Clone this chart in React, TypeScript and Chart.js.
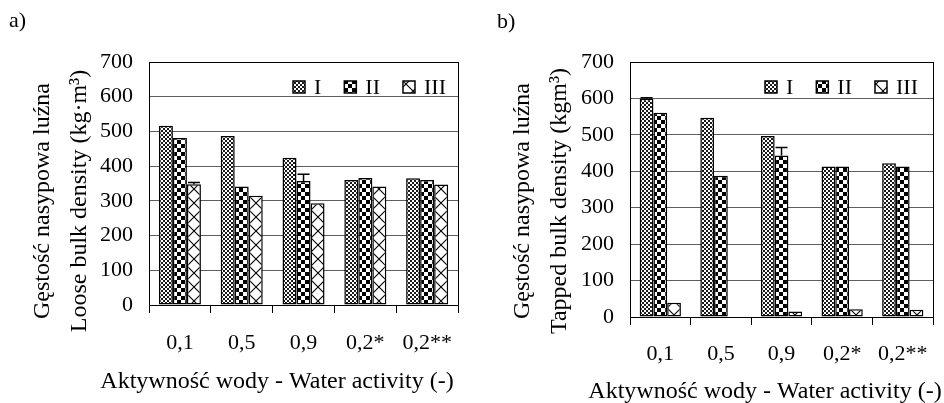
import React, { useEffect, useRef } from "react";
import { Chart, registerables } from "chart.js";

Chart.register(...registerables);

// ---------- data ----------
const categories = ["0,1", "0,5", "0,9", "0,2*", "0,2**"];
const seriesLabels = ["I", "II", "III"];
const yMin = 0;
const yMax = 700;
const yStep = 100;

// a) Loose bulk density (kg·m³)
const looseI = [516, 487, 424, 360, 365];
const looseII = [481, 341, 357, 366, 360];
const looseIII = [348, 315, 293, 341, 347];
const looseErrI = [0, 0, 0, 0, 0];
const looseErrII = [0, 0, 20, 0, 0];
const looseErrIII = [5, 0, 0, 0, 0];

// b) Tapped bulk density (kgm³)
const tappedI = [599, 547, 497, 413, 422];
const tappedII = [561, 388, 443, 413, 413];
const tappedIII = [39, 0, 15, 21, 20];
const tappedErrI = [3, 0, 0, 0, 0];
const tappedErrII = [0, 0, 22, 0, 0];
const tappedErrIII = [0, 0, 0, 0, 0];

const yTitleLoose = ["Gęstość nasypowa luźna", "Loose bulk density (kg·m³)"];
const yTitleTapped = ["Gęstość nasypowa luźna", "Tapped bulk density (kgm³)"];
const xTitle = "Aktywność wody - Water activity (-)";

const FONT = "'Liberation Serif', 'Times New Roman', Times, serif";
const CAT_PCT = 0.68;

// ---------- patterns ----------
function makeTile(kind: string): HTMLCanvasElement {
  const c = document.createElement("canvas");
  const size = kind === "fine" ? 4 : kind === "checker" ? 8 : 14;
  c.width = size;
  c.height = size;
  const g = c.getContext("2d") as CanvasRenderingContext2D;
  g.fillStyle = "#fff";
  g.fillRect(0, 0, size, size);
  if (kind === "fine") {
    g.fillStyle = "#1a1a1a";
    g.fillRect(0, 0, 2, 2);
    g.fillRect(2, 2, 2, 2);
  } else if (kind === "checker") {
    g.fillStyle = "#000";
    g.fillRect(0, 0, 4, 4);
    g.fillRect(4, 4, 4, 4);
  } else {
    g.strokeStyle = "#000";
    g.lineWidth = 1.1;
    g.beginPath();
    g.moveTo(0, 0);
    g.lineTo(size, size);
    g.moveTo(size, 0);
    g.lineTo(0, size);
    g.stroke();
  }
  return c;
}

function patternFrom(tile: HTMLCanvasElement, dx: number): CanvasPattern | string {
  const g = tile.getContext("2d") as CanvasRenderingContext2D;
  const p = g.createPattern(tile, "repeat");
  if (!p) return "#888";
  if (dx && typeof DOMMatrix !== "undefined") p.setTransform(new DOMMatrix().translate(dx, 0));
  return p;
}

// ---------- plugins ----------
const errorBarPlugin = {
  id: "errorBars",
  afterDatasetsDraw(chart: any) {
    const ctx = chart.ctx;
    const yScale = chart.scales.y;
    chart.data.datasets.forEach((ds: any, di: number) => {
      const errs = ds.errors as number[] | undefined;
      if (!errs) return;
      const meta = chart.getDatasetMeta(di);
      meta.data.forEach((bar: any, i: number) => {
        const e = errs[i];
        if (!e) return;
        const yTop = yScale.getPixelForValue(ds.data[i] + e);
        ctx.save();
        ctx.strokeStyle = "#000";
        ctx.lineWidth = 1.5;
        ctx.beginPath();
        ctx.moveTo(bar.x, bar.y);
        ctx.lineTo(bar.x, yTop);
        ctx.moveTo(bar.x - 6, yTop);
        ctx.lineTo(bar.x + 6, yTop);
        ctx.stroke();
        ctx.restore();
      });
    });
  },
};

const framePlugin = {
  id: "frame",
  afterDraw(chart: any) {
    const { ctx, chartArea } = chart;
    ctx.save();
    ctx.strokeStyle = "#000";
    ctx.lineWidth = 1;
    ctx.strokeRect(
      Math.round(chartArea.left) + 0.5,
      Math.round(chartArea.top) + 0.5,
      Math.round(chartArea.right - chartArea.left),
      Math.round(chartArea.bottom - chartArea.top)
    );
    ctx.restore();
  },
};

const inlineLegendPlugin = {
  id: "inlineLegend",
  afterDraw(chart: any, _args: any, opts: any) {
    const { ctx, chartArea } = chart;
    const box = 12;
    const textGap = 9;
    let x = chartArea.left + opts.offsetX;
    const yc = chartArea.top + opts.offsetY;
    ctx.save();
    ctx.font = `${opts.fontSize}px ${FONT}`;
    ctx.textBaseline = "middle";
    ctx.textAlign = "left";
    chart.data.datasets.forEach((ds: any) => {
      ctx.fillStyle = patternFrom(ds.tile, 0);
      ctx.fillRect(x, yc - box / 2, box, box);
      ctx.strokeStyle = "#000";
      ctx.lineWidth = 1.5;
      ctx.strokeRect(x, yc - box / 2, box, box);
      ctx.fillStyle = "#000";
      ctx.fillText(ds.label, x + box + textGap, yc + 1);
      const w = ctx.measureText(ds.label).width;
      x += box + textGap + w + opts.gap;
    });
    ctx.restore();
  },
};

const panelTextPlugin = {
  id: "panelText",
  afterDraw(chart: any, _args: any, opts: any) {
    const ctx = chart.ctx;
    (opts.items || []).forEach((it: any) => {
      ctx.save();
      ctx.font = `${it.size}px ${FONT}`;
      ctx.fillStyle = "#000";
      ctx.textBaseline = "middle";
      ctx.textAlign = it.align || "center";
      ctx.translate(it.x, it.y);
      if (it.rotate) ctx.rotate(it.rotate);
      ctx.fillText(it.text, 0, 0);
      ctx.restore();
    });
  },
};

// ---------- chart builder ----------
interface PanelCfg {
  series: number[][];
  errors: number[][];
  yWidth: number;
  xHeight: number;
  padRight: number;
  xTickPad: number;
  legendX: number;
  texts: any[];
}

function buildConfig(cfg: PanelCfg): any {
  const tiles = [makeTile("fine"), makeTile("checker"), makeTile("cross")];
  const nSeries = cfg.series.length;
  return {
    type: "bar",
    data: {
      labels: categories,
      datasets: cfg.series.map((d, i) => ({
        label: seriesLabels[i],
        data: d,
        errors: cfg.errors[i],
        tile: tiles[i],
        // pattern anchored to each bar's left edge
        backgroundColor: (c: any) => {
          const xs = c.chart.scales && c.chart.scales.x;
          if (!xs || c.type !== "data") return patternFrom(tiles[i], 0);
          const catW = xs.width / categories.length;
          const barW = (catW * CAT_PCT) / nSeries;
          const center = xs.getPixelForValue(c.dataIndex);
          const left = center - (nSeries * barW) / 2 + c.datasetIndex * barW;
          return patternFrom(tiles[i], Math.round(left));
        },
        borderColor: "#000",
        borderWidth: 1.5,
        borderSkipped: false,
        barPercentage: 1,
        categoryPercentage: CAT_PCT,
      })),
    },
    options: {
      responsive: false,
      animation: false,
      events: [],
      layout: { padding: { top: 62, left: 0, right: cfg.padRight, bottom: 0 } },
      scales: {
        x: {
          afterFit(scale: any) {
            scale.height = cfg.xHeight;
          },
          grid: {
            display: true,
            drawOnChartArea: false,
            drawTicks: true,
            tickLength: 8,
            color: "#000",
            offset: true,
          },
          border: { display: true, color: "#000", width: 1 },
          ticks: {
            color: "#000",
            font: { family: FONT, size: 22 },
            padding: cfg.xTickPad,
            maxRotation: 0,
            autoSkip: false,
          },
        },
        y: {
          min: yMin,
          max: yMax,
          afterFit(scale: any) {
            scale.width = cfg.yWidth;
          },
          grid: { color: "#5e5e5e", drawTicks: false, lineWidth: 1 },
          border: { display: true, color: "#000", width: 1 },
          ticks: {
            stepSize: yStep,
            color: "#000",
            font: { family: FONT, size: 22 },
            padding: 16,
          },
        },
      },
      plugins: {
        legend: { display: false },
        tooltip: { enabled: false },
        inlineLegend: { offsetX: cfg.legendX, offsetY: 25, gap: 23, fontSize: 22 },
        panelText: { items: cfg.texts },
      },
    },
    plugins: [errorBarPlugin, framePlugin, inlineLegendPlugin, panelTextPlugin],
  };
}

function Panel(props: { cfg: PanelCfg; width: number; left: number }) {
  const ref = useRef<HTMLCanvasElement | null>(null);
  useEffect(() => {
    if (!ref.current) return;
    const chart = new Chart(ref.current, buildConfig(props.cfg));
    return () => chart.destroy();
  }, []);
  return (
    <canvas
      ref={ref}
      width={props.width}
      height={403}
      style={{ position: "absolute", left: props.left, top: 0, width: props.width, height: 403, display: "block" }}
    />
  );
}

const R = -Math.PI / 2;

const panelA: PanelCfg = {
  series: [looseI, looseII, looseIII],
  errors: [looseErrI, looseErrII, looseErrIII],
  yWidth: 149,
  xHeight: 403 - 305,
  padRight: 11,
  xTickPad: 17,
  legendX: 144,
  texts: [
    { text: "a)", x: 9, y: 21, size: 22, align: "left" },
    { text: yTitleLoose[0], x: 43, y: 201, size: 24, rotate: R },
    { text: yTitleLoose[1], x: 80, y: 201, size: 24, rotate: R },
    { text: xTitle, x: 277, y: 382, size: 24 },
  ],
};

const panelB: PanelCfg = {
  series: [tappedI, tappedII, tappedIII],
  errors: [tappedErrI, tappedErrII, tappedErrIII],
  yWidth: 160,
  xHeight: 403 - 317,
  padRight: 5,
  xTickPad: 16,
  legendX: 135,
  texts: [
    { text: "b)", x: 27, y: 22, size: 22, align: "left" },
    { text: yTitleTapped[0], x: 53, y: 201, size: 24, rotate: R },
    { text: yTitleTapped[1], x: 90, y: 201, size: 24, rotate: R },
    { text: xTitle, x: 295, y: 392, size: 24 },
  ],
};

export default function App() {
  return (
    <div style={{ position: "absolute", left: 0, top: 0, width: 944, height: 403, background: "#fff" }}>
      <Panel cfg={panelA} width={470} left={0} />
      <Panel cfg={panelB} width={474} left={470} />
    </div>
  );
}
